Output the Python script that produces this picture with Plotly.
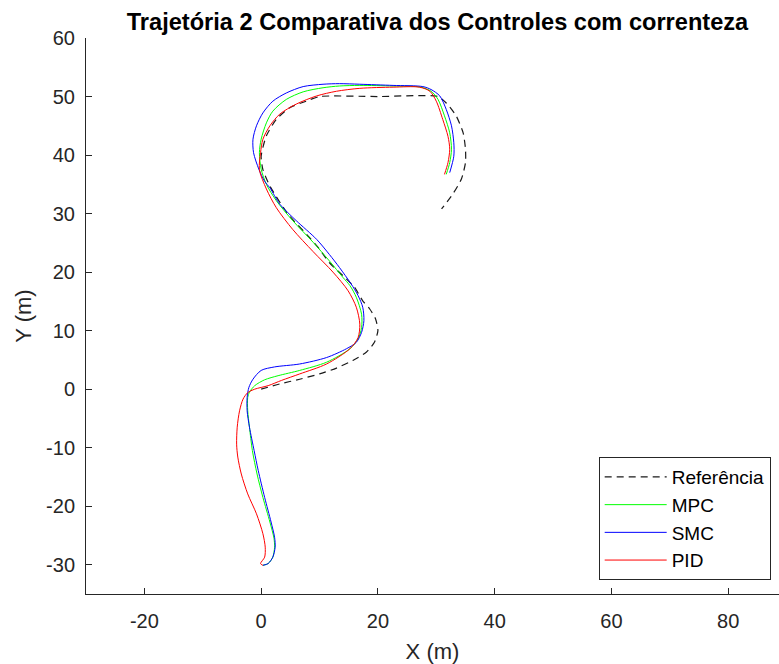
import plotly.graph_objects as go

# Reference path (m)
ref_x = [0.0, 3.2, 6.6, 10.0, 12.9, 15.7, 18.0, 19.4, 20.0, 19.6, 18.6, 17.4, 16.0, 14.0, 11.7,
         10.0, 8.3, 4.6, 1.5, 0.3, 0.0, 0.9, 2.6, 4.9, 7.7, 10.0, 20.0, 30.3, 31.7, 33.4, 34.6,
         35.0, 35.0, 34.3, 32.8, 30.9]
ref_y = [0.0, 0.9, 1.7, 2.6, 3.6, 4.9, 6.3, 8.0, 10.0, 12.0, 13.7, 15.1, 17.4, 19.4, 21.6,
         23.9, 25.9, 29.9, 34.7, 37.5, 39.8, 43.3, 46.1, 48.1, 49.2, 50.0, 50.0, 50.0, 48.9, 46.7,
         43.8, 41.0, 38.7, 35.9, 33.3, 30.8]

# MPC controller path
mpc_x = [0.3, 1.2, 2.0, 2.3, 2.2, 1.5, 0.3, -0.7, -1.5, -2.0, -2.3, -2.3, -2.0, -1.1, 0.6, 2.9,
         6.6, 11.2, 15.2, 16.6, 17.2, 17.2, 16.3, 15.2, 14.0, 11.7, 8.9, 5.4, 2.6, 0.9, 0.0, -0.3,
         0.0, 0.9, 2.0, 4.3, 7.2, 10.6, 13.4, 16.9, 22.6, 27.4, 29.1, 30.3, 31.4, 32.3, 32.6,
         32.3, 31.7]
mpc_y = [-30.1, -29.8, -28.7, -27.0, -25.5, -22.7, -18.5, -14.5, -10.5, -6.5, -3.7, -1.4, -0.5,
         0.6, 1.6, 2.3, 3.2, 4.6, 6.9, 8.6, 10.5, 12.8, 15.7, 17.7, 19.1, 21.9, 25.1, 28.8, 32.2,
         35.0, 37.6, 40.4, 42.7, 45.5, 47.5, 49.5, 50.8, 51.5, 51.8, 51.9, 51.8, 51.6, 50.9, 49.5,
         46.7, 43.8, 41.0, 38.7, 36.7]

# SMC controller path
smc_x = [0.3, 1.2, 2.0, 2.4, 2.3, 1.7, 0.6, -0.5, -1.2, -2.0, -2.4, -2.4, -2.1, -1.4, 0.0, 2.3,
         6.6, 11.2, 14.6, 16.3, 17.2, 17.6, 17.4, 16.6, 15.4, 13.4, 11.7, 9.5, 6.0, 3.2, 1.5, 0.6,
         -0.4, -1.3, -1.4, -0.8, 0.3, 2.0, 4.3, 7.2, 10.6, 13.4, 16.9, 22.6, 27.7, 29.1, 30.6,
         31.7, 32.6, 33.0, 33.0, 32.3]
smc_y = [-30.1, -29.8, -28.7, -27.0, -25.3, -22.7, -18.5, -13.9, -10.5, -6.5, -3.7, -1.4, 0.3,
         1.7, 3.2, 3.8, 4.3, 5.4, 6.9, 8.0, 9.7, 11.7, 14.0, 16.0, 18.0, 20.8, 23.0, 25.6, 28.8,
         31.6, 34.4, 35.5, 37.6, 40.4, 42.7, 45.0, 47.2, 49.2, 50.6, 51.7, 52.1, 52.2, 52.1, 51.9,
         51.7, 51.2, 50.1, 47.8, 45.0, 42.1, 39.8, 37.0]

# PID controller path
pid_x = [0.3, -0.1, 0.6, 0.7, 0.3, -0.8, -2.3, -3.4, -4.0, -4.2, -4.1, -3.7, -3.1, -2.3, -1.1,
         1.2, 3.5, 6.6, 11.2, 15.2, 16.6, 16.9, 16.3, 14.9, 12.3, 8.9, 5.4, 2.6, 0.9, -0.3, -0.1,
         0.3, 1.5, 3.2, 6.0, 9.5, 12.9, 16.9, 22.6, 27.1, 28.9, 30.0, 31.1, 32.0, 32.3, 32.0,
         31.4]
pid_y = [-30.1, -29.8, -28.7, -27.0, -24.7, -21.3, -17.9, -14.5, -11.6, -9.4, -6.5, -3.7, -1.7,
         -0.6, 0.0, 0.6, 1.5, 2.6, 4.3, 6.9, 8.8, 11.1, 14.0, 16.8, 20.0, 23.5, 27.3, 31.0, 34.2,
         37.5, 40.4, 42.7, 45.0, 47.0, 48.7, 50.1, 50.9, 51.4, 51.6, 51.6, 50.9, 49.2, 46.1, 43.2,
         41.0, 38.7, 36.7]

x_ticks = [-20, 0, 20, 40, 60, 80]
y_ticks = [-30, -20, -10, 0, 10, 20, 30, 40, 50, 60]

AX = "#262626"
FONT = "Liberation Sans, Arial, sans-serif"

fig = go.Figure()
fig.add_trace(go.Scatter(x=ref_x, y=ref_y, mode="lines", name="Referência",
                         line=dict(color="#1a1a1a", width=1.2, dash="7px,5px",
                                   shape="spline", smoothing=0.6)))
fig.add_trace(go.Scatter(x=mpc_x, y=mpc_y, mode="lines", name="MPC",
                         line=dict(color="#00ff00", width=1, shape="spline", smoothing=0.8)))
fig.add_trace(go.Scatter(x=smc_x, y=smc_y, mode="lines", name="SMC",
                         line=dict(color="#0000ff", width=1, shape="spline", smoothing=0.8)))
fig.add_trace(go.Scatter(x=pid_x, y=pid_y, mode="lines", name="PID",
                         line=dict(color="#ff0000", width=1, shape="spline", smoothing=0.8)))

fig.update_layout(
    width=779, height=664,
    margin=dict(l=86, r=0, t=38, b=70),
    paper_bgcolor="white", plot_bgcolor="white",
    font=dict(family=FONT, color=AX, size=20),
    title=dict(text="<b>Trajetória 2 Comparativa dos Controles com correnteza</b>",
               x=0.5616, xanchor="center", y=1 - 22 / 664, yanchor="middle",
               yref="container", font=dict(size=23.6, color="black", family=FONT)),
    showlegend=True,
    legend=dict(x=0.988, xanchor="right", y=0.025, yanchor="bottom",
                bgcolor="white", bordercolor=AX, borderwidth=1,
                font=dict(size=19, color="black", family=FONT), itemwidth=62),
)
fig.update_xaxes(range=[-30, 88.7], tickvals=x_ticks, ticktext=[str(v) for v in x_ticks],
                 showline=True, linecolor=AX, linewidth=1, ticks="inside", ticklen=6,
                 tickcolor=AX, showgrid=False, zeroline=False, mirror=False,
                 ticklabelstandoff=9,
                 title=dict(text="X (m)", font=dict(size=22), standoff=12),
                 tickfont=dict(size=20, color=AX))
fig.update_yaxes(range=[-35, 60], tickvals=y_ticks, ticktext=[str(v) for v in y_ticks],
                 showline=True, linecolor=AX, linewidth=1, ticks="inside", ticklen=6,
                 tickcolor=AX, showgrid=False, zeroline=False, mirror=False,
                 ticklabelstandoff=6,
                 title=dict(text="Y (m)", font=dict(size=22), standoff=8),
                 tickfont=dict(size=20, color=AX))

fig.write_html("out.html")
